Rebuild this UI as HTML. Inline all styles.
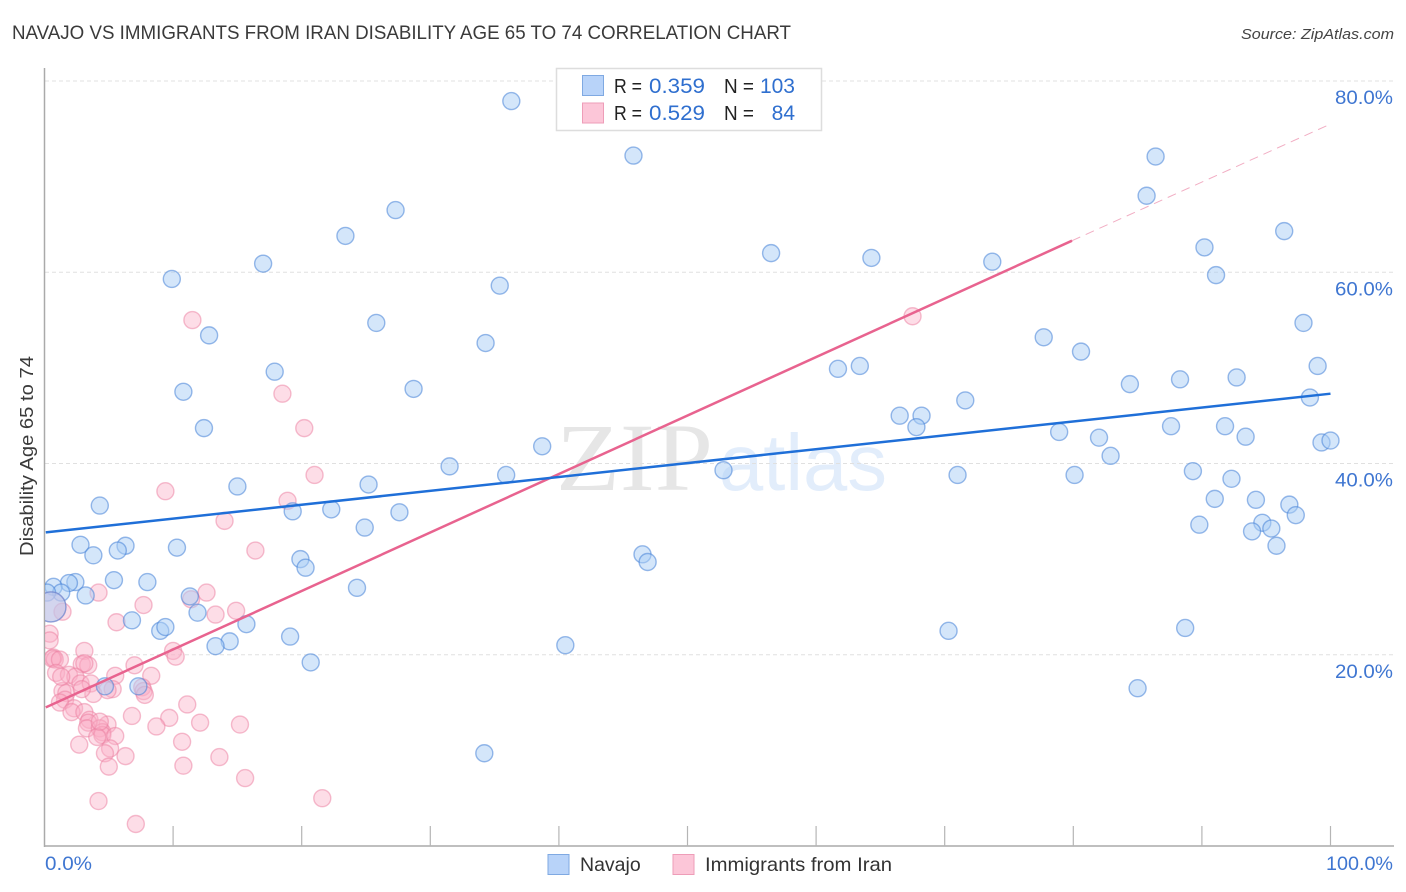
<!DOCTYPE html>
<html lang="en">
<head>
<meta charset="utf-8">
<title>Navajo vs Immigrants from Iran Disability Age 65 to 74 Correlation Chart</title>
<style>
html,body{margin:0;padding:0;background:#fff;width:1406px;height:892px;overflow:hidden}
svg{display:block}
text{font-family:"Liberation Sans",sans-serif}
</style>
</head>
<body>
<svg id="chart" width="1406" height="892" viewBox="0 0 1406 892" xmlns="http://www.w3.org/2000/svg">
  <defs>
    <clipPath id="plot-clip"><rect x="45" y="60" width="1350" height="786"/></clipPath>
  </defs>
  <text x="12" y="39" font-size="19" fill="#3a3a3a" textLength="779" lengthAdjust="spacingAndGlyphs">NAVAJO VS IMMIGRANTS FROM IRAN DISABILITY AGE 65 TO 74 CORRELATION CHART</text>
  <text x="1394" y="39" font-size="15" font-style="italic" fill="#444" text-anchor="end" textLength="153" lengthAdjust="spacingAndGlyphs">Source: ZipAtlas.com</text>
  <text x="556" y="490" font-size="96" fill="#e6e6e6" style="font-family:'Liberation Serif',serif" textLength="157" lengthAdjust="spacingAndGlyphs">ZIP</text>
  <text x="719" y="490" font-size="80" fill="#e2edfb" textLength="168" lengthAdjust="spacingAndGlyphs">atlas</text>
  <g id="grid"></g>
  <g id="axes"></g>
  <g id="points" clip-path="url(#plot-clip)"></g>
  <g id="lines"></g>
  <text transform="translate(33,456) rotate(-90)" font-size="18" fill="#3a3a3a" text-anchor="middle" textLength="200" lengthAdjust="spacingAndGlyphs">Disability Age 65 to 74</text>

  <g>
    <rect x="556.5" y="68.5" width="265" height="62" fill="#fff" stroke="#ddd" stroke-width="1.5"/>
    <rect x="582.5" y="75.5" width="21" height="20" fill="#b8d3f9" stroke="#7fa9e2" stroke-width="1"/>
    <rect x="582.5" y="103" width="21" height="20" fill="#fcc6d8" stroke="#ee9db8" stroke-width="1"/>
    <text x="614" y="93" font-size="20" fill="#222" textLength="28" lengthAdjust="spacingAndGlyphs">R =</text>
    <text x="649" y="93" font-size="21" fill="#2f6fcf" textLength="56" lengthAdjust="spacingAndGlyphs">0.359</text>
    <text x="724" y="93" font-size="20" fill="#222" textLength="30" lengthAdjust="spacingAndGlyphs">N =</text>
    <text x="795" y="93" font-size="21" fill="#2f6fcf" text-anchor="end">103</text>
    <text x="614" y="120" font-size="20" fill="#222" textLength="28" lengthAdjust="spacingAndGlyphs">R =</text>
    <text x="649" y="120" font-size="21" fill="#2f6fcf" textLength="56" lengthAdjust="spacingAndGlyphs">0.529</text>
    <text x="724" y="120" font-size="20" fill="#222" textLength="30" lengthAdjust="spacingAndGlyphs">N =</text>
    <text x="795" y="120" font-size="21" fill="#2f6fcf" text-anchor="end">84</text>
  </g>

  <g>
    <rect x="548" y="854.5" width="21" height="20" fill="#b8d3f9" stroke="#7fa9e2" stroke-width="1"/>
    <text x="580" y="871" font-size="19.5" fill="#333">Navajo</text>
    <rect x="673" y="854.5" width="21" height="20" fill="#fcc6d8" stroke="#ee9db8" stroke-width="1"/>
    <text x="705" y="871" font-size="19.5" fill="#333" textLength="187" lengthAdjust="spacingAndGlyphs">Immigrants from Iran</text>
  </g>
</svg>
<script>
// Chart data (percent units)
const navajoX = [36.3,45.8,86.4,85.7,27.3,23.4,96.4,90.2,56.5,64.3,73.7,17.0,9.9,91.1,35.4,25.8,97.9,12.8,34.3,77.7,80.6,99.0,61.7,63.4,17.9,84.4,88.3,92.7,10.8,28.7,98.4,71.6,66.5,68.2,67.8,12.4,87.6,91.8,78.9,82.0,93.4,99.3,100.0,38.7,82.9,31.5,52.8,35.9,71.0,80.1,89.3,92.3,15.0,25.2,4.3,91.0,94.2,19.3,22.3,27.6,96.8,97.3,89.8,24.9,94.7,95.4,93.9,95.8,2.8,6.3,5.7,10.3,3.8,19.9,20.3,46.5,46.9,5.4,8.0,2.4,1.9,0.7,24.3,1.3,3.2,0.2,11.3,11.9,6.8,15.7,9.0,9.4,19.1,14.4,13.3,40.5,70.3,88.7,20.7,4.7,7.3,85.0,34.2];
const navajoY = [77.9,72.2,72.1,68.0,66.5,63.8,64.3,62.6,62.0,61.5,61.1,60.9,59.3,59.7,58.6,54.7,54.7,53.4,52.6,53.2,51.7,50.2,49.9,50.2,49.6,48.3,48.8,49.0,47.5,47.8,46.9,46.6,45.0,45.0,43.8,43.7,43.9,43.9,43.3,42.7,42.8,42.2,42.4,41.8,40.8,39.7,39.3,38.8,38.8,38.8,39.2,38.4,37.6,37.8,35.6,36.3,36.2,35.0,35.2,34.9,35.7,34.6,33.6,33.3,33.8,33.2,32.9,31.4,31.5,31.4,30.9,31.2,30.4,30.0,29.1,30.5,29.7,27.8,27.6,27.6,27.5,27.1,27.0,26.5,26.2,26.5,26.1,24.4,23.6,23.2,22.5,22.9,21.9,21.4,20.9,21.0,22.5,22.8,19.2,16.7,16.7,16.5,9.7];
const iranX = [11.5,67.5,18.5,20.2,21.0,9.4,18.9,14.0,16.4,4.2,7.7,12.6,11.4,1.4,5.6,13.3,14.9,0.4,0.4,3.1,10.0,10.2,0.7,0.8,0.6,1.2,2.9,3.4,3.1,7.0,5.5,8.3,0.9,1.9,2.4,2.8,3.6,3.8,1.4,1.7,5.3,4.9,7.6,7.7,7.8,1.6,1.2,2.3,2.1,3.1,3.5,3.4,4.9,6.8,11.1,9.7,8.7,12.1,15.2,3.3,4.3,4.5,4.5,4.1,5.5,5.1,2.7,4.7,6.3,10.7,13.6,5.0,10.8,15.6,4.2,21.6,7.1,1.3,2.9,4.3];
const iranY = [55.0,55.4,47.3,43.7,38.8,37.1,36.1,34.0,30.9,26.5,25.2,26.5,25.8,24.5,23.4,24.2,24.6,22.2,21.5,20.4,20.4,19.8,19.7,19.5,19.6,19.5,19.0,18.9,19.1,18.9,17.8,17.8,18.1,17.9,17.7,17.0,17.0,15.9,16.2,16.0,16.4,16.3,16.6,16.2,15.8,15.3,15.0,14.4,14.0,14.0,13.2,12.9,12.7,13.6,14.8,13.4,12.5,12.9,12.7,12.3,12.3,11.9,11.6,11.4,11.5,10.2,10.6,9.7,9.4,10.9,9.3,8.3,8.4,7.1,4.7,5.0,2.3,17.7,16.4,13.0];
const clusterPoint = [0.5, 25.0];
const navajoTrend = [[0.1, 32.8], [100.0, 47.3]];
const iranTrend = [[0.1, 14.5], [79.9, 63.3]];
const iranTrendExtension = [[79.9, 63.3], [100.0, 75.5]];
const yTickValues = [20, 40, 60, 80];
const yTickLabels = ['20.0%', '40.0%', '60.0%', '80.0%'];
const xTickValues = [0, 10, 20, 30, 40, 50, 60, 70, 80, 90, 100];

const NS = 'http://www.w3.org/2000/svg';
function xScale(v) { return 44.5 + v * 12.86; }
function yScale(v) { return 846 - v * 9.5625; }
function make(tag, parent, attrs, txt) {
  const el = document.createElementNS(NS, tag);
  for (const k in attrs) el.setAttribute(k, attrs[k]);
  if (txt !== undefined) el.textContent = txt;
  parent.appendChild(el);
  return el;
}

const gridG = document.getElementById('grid');
const axesG = document.getElementById('axes');
const pointsG = document.getElementById('points');
const linesG = document.getElementById('lines');

// Gridlines and y tick labels
yTickValues.forEach((v, i) => {
  const y = yScale(v);
  const gl = make('line', gridG, {x1: 45, x2: 1393, y1: y, y2: y, stroke: '#e0e0e0', 'stroke-width': 1, 'stroke-dasharray': '4 3'});
  
  
  const lab = make('text', axesG, {x: 1393, y: y + 23, 'font-size': 19, fill: '#3f76d1', 'text-anchor': 'end', textLength: 58, lengthAdjust: 'spacingAndGlyphs'}, yTickLabels[i]);
  
  
});

// Axis lines
const yAxis = make('line', axesG, {x1: 44.5, x2: 44.5, y1: 68, y2: 847, stroke: '#aaa', 'stroke-width': 1.5});


const xAxis = make('line', axesG, {x1: 44, x2: 1394, y1: 846, y2: 846, stroke: '#aaa', 'stroke-width': 1.5});



// X ticks
xTickValues.forEach(v => {
  if (v === 0) return;
  const x = xScale(v);
  const t = make('line', axesG, {x1: x, x2: x, y1: 826, y2: 846, stroke: '#b5b5b5', 'stroke-width': 1.2});
  
  
});
const xMin = make('text', axesG, {x: 45, y: 870, 'font-size': 19, fill: '#3f76d1', textLength: 47, lengthAdjust: 'spacingAndGlyphs'}, '0.0%');


const xMax = make('text', axesG, {x: 1393, y: 870, 'font-size': 19, fill: '#3f76d1', 'text-anchor': 'end', textLength: 67, lengthAdjust: 'spacingAndGlyphs'}, '100.0%');



// Points
iranX.forEach((v, i) => {
  const c = make('circle', pointsG, {cx: xScale(v), cy: yScale(iranY[i]), r: 8.5, fill: 'rgba(250,175,198,0.42)', stroke: 'rgba(235,125,160,0.5)', 'stroke-width': 1.4});
  
  
});
navajoX.forEach((v, i) => {
  const c = make('circle', pointsG, {cx: xScale(v), cy: yScale(navajoY[i]), r: 8.5, fill: 'rgba(170,205,245,0.5)', stroke: 'rgba(70,130,215,0.55)', 'stroke-width': 1.4});
  
  
});
const bigIran = make('circle', pointsG, {cx: xScale(clusterPoint[0]), cy: yScale(clusterPoint[1]), r: 15, fill: 'rgba(250,175,198,0.42)', stroke: 'rgba(235,125,160,0.45)', 'stroke-width': 1.4});


const bigNavajo = make('circle', pointsG, {cx: xScale(clusterPoint[0]), cy: yScale(clusterPoint[1]), r: 15, fill: 'rgba(170,205,245,0.5)', stroke: 'rgba(70,130,215,0.55)', 'stroke-width': 1.4});



// Trend lines
const extLine = make('line', linesG, {x1: xScale(iranTrendExtension[0][0]), y1: yScale(iranTrendExtension[0][1]), x2: xScale(iranTrendExtension[1][0]), y2: yScale(iranTrendExtension[1][1]), stroke: '#e9789c', 'stroke-width': 1, 'stroke-dasharray': '9 6', opacity: 0.6});


const iranLine = make('line', linesG, {x1: xScale(iranTrend[0][0]), y1: yScale(iranTrend[0][1]), x2: xScale(iranTrend[1][0]), y2: yScale(iranTrend[1][1]), stroke: '#e8638f', 'stroke-width': 2.5});


const navajoLine = make('line', linesG, {x1: xScale(navajoTrend[0][0]), y1: yScale(navajoTrend[0][1]), x2: xScale(navajoTrend[1][0]), y2: yScale(navajoTrend[1][1]), stroke: '#1f6fd8', 'stroke-width': 2.5});


</script>
</body>
</html>
